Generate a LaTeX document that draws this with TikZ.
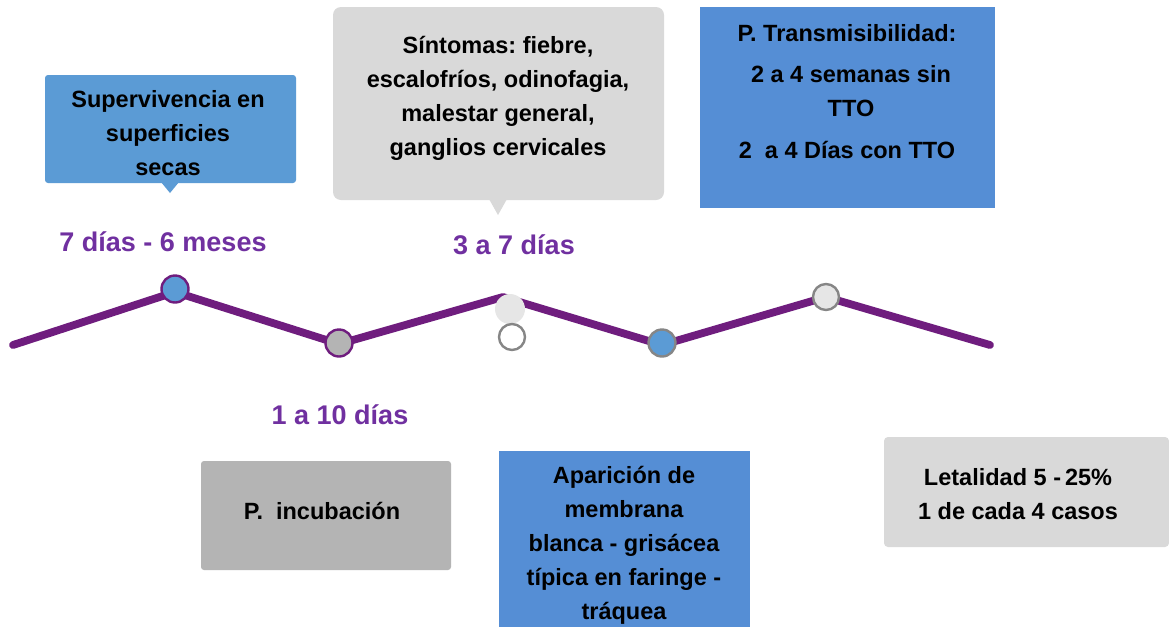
\documentclass[tikz,border=0pt]{standalone}
\usepackage{fontspec}
\setmainfont{Liberation Sans}
\frenchspacing
\definecolor{lineP}{HTML}{6F1D7E}
\definecolor{labP}{HTML}{7030A0}
\definecolor{blueA}{HTML}{5B9BD5}
\definecolor{blueB}{HTML}{558ED5}
\definecolor{greyL}{HTML}{D9D9D9}
\definecolor{greyM}{HTML}{B4B4B4}
\definecolor{greyC}{HTML}{E6E6E6}
\definecolor{greyD}{HTML}{868686}
\tikzset{
  boxtext/.style={font=\fontsize{23.5}{34}\selectfont\bfseries, align=center, text=black, inner sep=0pt},
  lab/.style={font=\fontsize{27}{30}\selectfont\bfseries, text=labP, inner sep=0pt},
  dot/.style={circle, inner sep=0pt, minimum size=24pt, line width=2.4pt},
  tline/.style={draw=lineP, line width=7.8pt, line cap=round, line join=round}
}
\begin{document}
\begin{tikzpicture}[x=1pt,y=-1pt]
\useasboundingbox[fill=white] (0,0) rectangle (1169,627);
% boxes
\fill[blueA, rounded corners=3pt] (45,75) rectangle (296,183);
\fill[blueA] (161,182) -- (179,182) -- (170,193) -- cycle;
\fill[greyL, rounded corners=8pt] (333,7) rectangle (664,200);
\fill[greyL] (489,199) -- (507,199) -- (498,215) -- cycle;
\fill[blueB] (700,7) rectangle (995,208);
\fill[greyM, rounded corners=3pt] (201,461) rectangle (451,570);
\fill[blueB] (499,451) rectangle (750,627);
\fill[greyL, rounded corners=4pt] (884,437) rectangle (1169,547);
% texts
\node[boxtext] (tsup) at (168,133.5) {Supervivencia en\\superficies\\secas};
\node[boxtext] (tsin) at (498,98) {Síntomas: fiebre,\\escalofríos, odinofagia,\\malestar general,\\ganglios cervicales};
\node[boxtext] (ttra) at (847,91.5) {P. Transmisibilidad:\\[7pt]\hspace*{8pt}2 a 4 semanas sin\\\hspace*{8pt}TTO\\[8pt]2\ \ a 4 Días con TTO};
\node[boxtext] (tinc) at (322,511) {P.\ \ incubación};
\node[boxtext] (tapa) at (624,545) {Aparición de\\membrana\\blanca - grisácea\\típica en faringe -\\tráquea};
\node[boxtext] (tlet) at (1018,494.5) {Letalidad 5 -\,25\%\\1 de cada 4 casos};
% labels
\node[lab] (l1) at (163,242) {7 días - 6 meses};
\node[lab] (l2) at (514,245) {3 a 7 días};
\node[lab] (l3) at (340,415) {1 a 10 días};
% timeline
\coordinate (p0) at (13,345);
\coordinate (p1) at (175,292);
\coordinate (p2) at (339,344);
\coordinate (p3) at (503,297);
\coordinate (p4) at (662,345);
\coordinate (p5) at (826,297);
\coordinate (p6) at (990,345);
\draw[tline] (p0) -- (p1) -- (p2) -- (p3) -- (p4) -- (p5) -- (p6);
% dots
\node[dot, fill=blueA, draw=lineP, minimum height=27pt] (d1) at (175,289) {};
\node[dot, fill=greyM, draw=lineP, minimum height=27pt] (d2) at (339,343) {};
\node[dot, fill=greyC, minimum width=27pt, minimum height=30pt] (d3) at (510,309) {};
\node[dot, fill=white, draw=greyD, minimum width=23pt, minimum height=26pt] (d4) at (512,337) {};
\node[dot, fill=blueA, draw=greyD, minimum height=27pt] (d5) at (662,343) {};
\node[dot, fill=greyC, draw=greyD, minimum height=26pt] (d6) at (826,297) {};
\end{tikzpicture}
\end{document}
